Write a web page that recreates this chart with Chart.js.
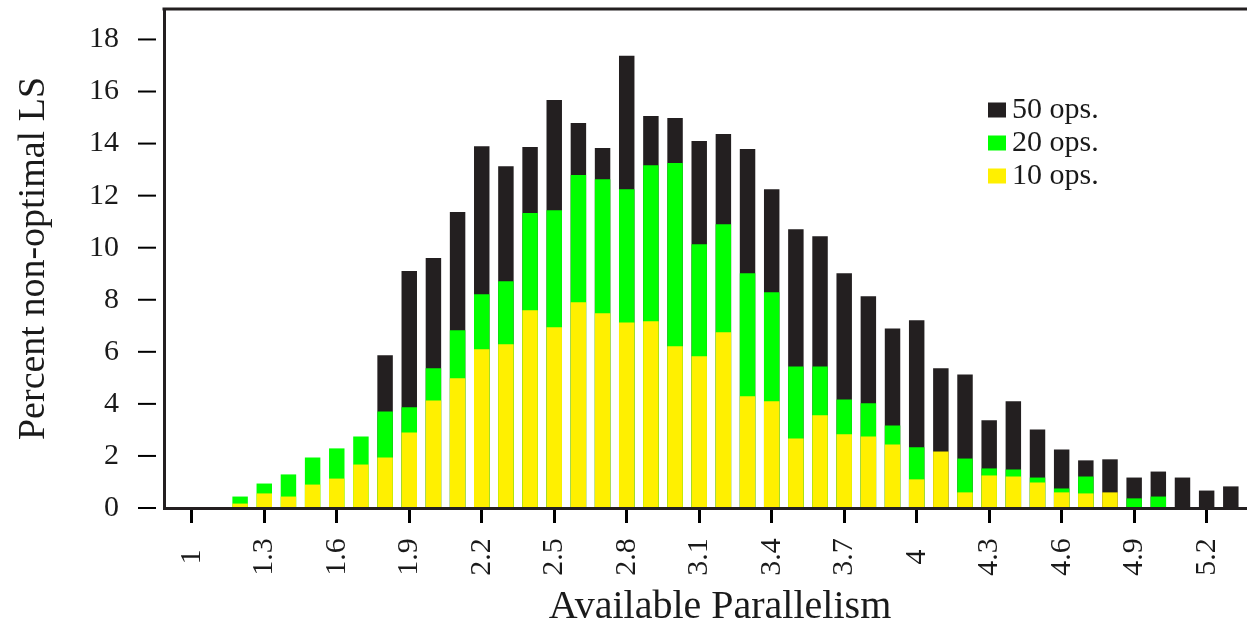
<!DOCTYPE html>
<html lang="en">
  <head>
    <meta charset="UTF-8" />
    <title>Available Parallelism</title>
    <script src="https://cdn.jsdelivr.net/npm/chart.js"></script>
    <style>
      body { margin: 0; background: #fff; }
      #wrap { width: 1247px; height: 626px; }
    </style>
  </head>
  <body>
    <div id="wrap"><canvas id="parChart"></canvas></div>

    <script>
      // available parallelism (x) and percent non-optimal LS for each op count
      const parallelism = [1.0, 1.1, 1.2, 1.3, 1.4, 1.5, 1.6, 1.7, 1.8, 1.9, 2.0, 2.1, 2.2, 2.3, 2.4, 2.5, 2.6, 2.7, 2.8, 2.9, 3.0,
        3.1, 3.2, 3.3, 3.4, 3.5, 3.6, 3.7, 3.8, 3.9, 4.0, 4.1, 4.2, 4.3, 4.4, 4.5, 4.6, 4.7, 4.8, 4.9, 5.0, 5.1, 5.2, 5.3];
      const ops50 = [0, 0, 0, 0, 0, 0, 0, 0, 5.87, 9.10, 9.60, 11.37, 13.90, 13.13, 13.87, 15.67, 14.79, 13.83, 17.37, 15.06, 14.98,
        14.10, 14.37, 13.79, 12.25, 10.71, 10.44, 9.02, 8.13, 6.90, 7.21, 5.37, 5.13, 3.37, 4.10, 3.02, 2.25, 1.83, 1.87, 1.17, 1.40, 1.17, 0.67, 0.83];
      const ops20 = [0, 0, 0.44, 0.94, 1.29, 1.94, 2.29, 2.75, 3.71, 3.87, 5.37, 6.83, 8.21, 8.71, 11.33, 11.44, 12.79, 12.63, 12.25, 13.17, 13.25,
        10.13, 10.90, 9.02, 8.29, 5.44, 5.44, 4.17, 4.02, 3.17, 2.33, 0, 1.90, 1.52, 1.48, 1.17, 0.75, 1.21, 0, 0.37, 0.44, 0, 0, 0];
      const ops10 = [0, 0, 0.17, 0.56, 0.44, 0.90, 1.13, 1.67, 1.94, 2.90, 4.13, 4.98, 6.10, 6.29, 7.60, 6.94, 7.90, 7.48, 7.13, 7.17, 6.21,
        5.83, 6.75, 4.29, 4.10, 2.67, 3.56, 2.83, 2.75, 2.44, 1.10, 2.17, 0.60, 1.25, 1.21, 0.98, 0.60, 0.56, 0.60, 0, 0, 0, 0, 0];

      const xTicks = [1, 1.3, 1.6, 1.9, 2.2, 2.5, 2.8, 3.1, 3.4, 3.7, 4, 4.3, 4.6, 4.9, 5.2];
      const yTicks = [0, 2, 4, 6, 8, 10, 12, 14, 16, 18];

      const SERIF = "'Liberation Serif', 'DejaVu Serif', serif";
      const INK = "#1a1a1a";

      function pts(values) {
        return parallelism.map((x, i) => ({ x: x, y: values[i] }));
      }

      // extra drawing: top frame line, detached y tick marks, centred rotated x labels, titles, legend
      const decor = {
        id: "decor",
        afterDraw(chart) {
          const ctx = chart.ctx;
          const area = chart.chartArea;
          const xs = chart.scales.x;
          const ys = chart.scales.y;
          ctx.save();

          ctx.strokeStyle = "#231f20";
          ctx.lineWidth = 3;
          ctx.beginPath();
          ctx.moveTo(area.left - 1.5, area.top);
          ctx.lineTo(area.right, area.top);
          ctx.stroke();

          ctx.strokeStyle = "#000";
          ctx.lineWidth = 2;
          yTicks.forEach((v) => {
            const y = ys.getPixelForValue(v);
            ctx.beginPath();
            ctx.moveTo(area.left - 26, y);
            ctx.lineTo(area.left - 8, y);
            ctx.stroke();
          });

          ctx.fillStyle = INK;
          ctx.font = "30px " + SERIF;
          ctx.textAlign = "center";
          ctx.textBaseline = "middle";
          xTicks.forEach((v) => {
            const x = xs.getPixelForValue(v);
            ctx.save();
            ctx.translate(x, area.bottom + 49);
            ctx.rotate(-Math.PI / 2);
            ctx.fillText(String(v), 0, 0);
            ctx.restore();
          });

          ctx.font = "40px " + SERIF;
          ctx.textBaseline = "alphabetic";
          ctx.fillText("Available Parallelism", 720, 618);

          ctx.font = "38px " + SERIF;
          ctx.save();
          ctx.translate(44, (area.top + area.bottom) / 2);
          ctx.rotate(-Math.PI / 2);
          ctx.fillText("Percent non-optimal LS", 0, 0);
          ctx.restore();

          // legend, top to bottom: 50, 20, 10 ops
          ctx.font = "30px " + SERIF;
          ctx.textAlign = "left";
          ctx.textBaseline = "middle";
          const legendSets = chart.data.datasets.slice().reverse();
          legendSets.forEach((ds, i) => {
            const cy = 110 + i * 33;
            ctx.fillStyle = ds.backgroundColor;
            ctx.fillRect(988, cy - 7.5, 18, 15);
            ctx.fillStyle = INK;
            ctx.fillText(ds.label, 1012, cy);
          });

          ctx.restore();
        },
      };

      const ctx = document.getElementById("parChart").getContext("2d");

      const parChart = new Chart(ctx, {
        type: "bar",
        data: {
          datasets: [
            { label: "10 ops.", data: pts(ops10), backgroundColor: "#fff000", grouped: false },
            { label: "20 ops.", data: pts(ops20), backgroundColor: "#00ff00", grouped: false },
            { label: "50 ops.", data: pts(ops50), backgroundColor: "#231f20", grouped: false },
          ],
        },
        options: {
          responsive: true,
          maintainAspectRatio: false,
          animation: false,
          layout: { autoPadding: false, padding: { top: 9, right: 0, left: 0, bottom: 0 } },
          datasets: { bar: { categoryPercentage: 1, barPercentage: 0.64, borderWidth: 0 } },
          plugins: { legend: { display: false }, tooltip: { enabled: false } },
          scales: {
            x: {
              type: "linear",
              offset: false,
              min: 0.885,
              max: 5.367,
              afterBuildTicks: (s) => { s.ticks = xTicks.map((v) => ({ value: v })); },
              afterFit: (s) => { s.height = 118; },
              ticks: { display: false },
              grid: { offset: false, drawOnChartArea: false, drawTicks: true, tickLength: 15, tickWidth: 3, tickColor: "#000" },
              border: { display: true, color: "#231f20", width: 3, z: 1 },
            },
            y: {
              min: 0,
              max: 19.17,
              afterBuildTicks: (s) => { s.ticks = yTicks.map((v) => ({ value: v })); },
              afterFit: (s) => { s.width = 164; },
              ticks: { color: INK, font: { family: SERIF, size: 30, lineHeight: 0.5 }, padding: 1 },
              grid: { drawOnChartArea: false, drawTicks: true, tickLength: 44, tickColor: "rgba(0,0,0,0)" },
              border: { display: true, color: "#231f20", width: 3, z: 1 },
            },
          },
        },
        plugins: [decor],
      });
    </script>
  </body>
</html>
